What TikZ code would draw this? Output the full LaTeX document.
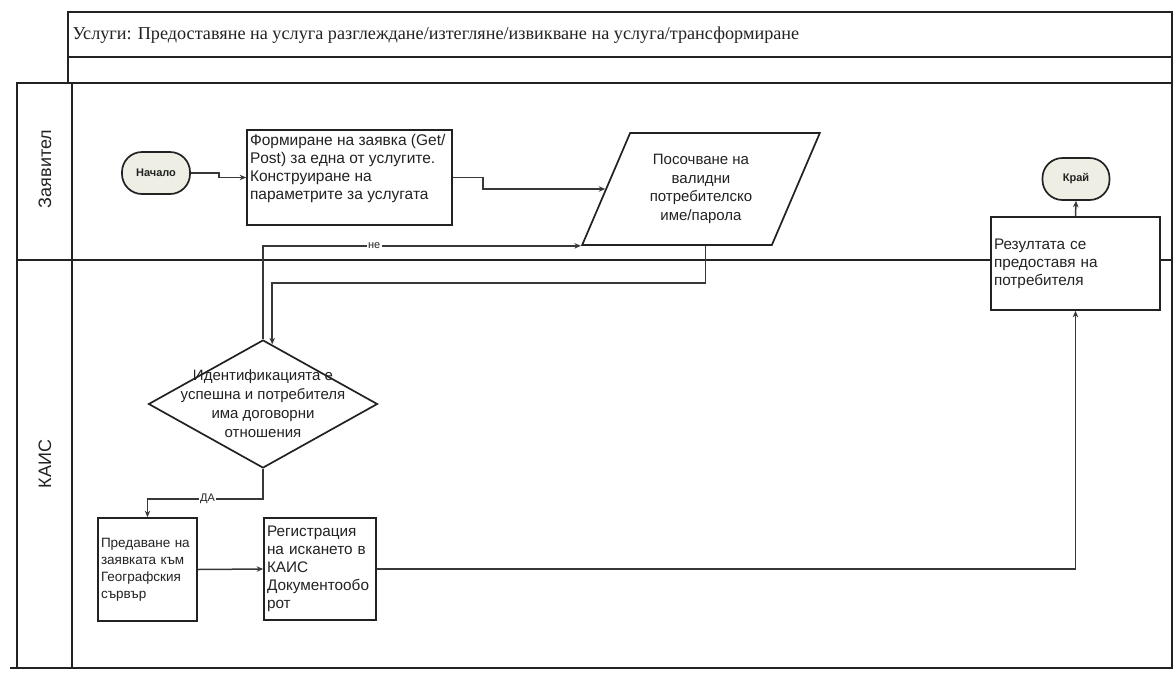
\documentclass[tikz,border=0pt]{standalone}
\usepackage{fontspec}
\setmainfont{Liberation Sans}
\newfontfamily\titlefont{Liberation Serif}
\usetikzlibrary{shapes.geometric,arrows.meta,calc}
\definecolor{termfill}{HTML}{EEEEE4}
\definecolor{ink}{HTML}{222222}

\begin{document}
\begin{tikzpicture}[x=1pt,y=-1pt,
  frame/.style={line width=1.6pt, draw=ink},
  taskbox/.style={draw=ink, line width=1.7pt, fill=white, rectangle, inner sep=3pt,
    align=left, text=ink, font=\fontsize{15.3}{18}\selectfont},
  terminal/.style={draw=ink, line width=1.7pt, fill=termfill, rectangle,
    rounded corners=20pt, text=ink, font=\bfseries\fontsize{11}{12}\selectfont},
  flow/.style={draw=ink!90, line width=1.5pt, -{Stealth[length=6.5pt,width=5.5pt]}},
  flowlabel/.style={fill=white, inner sep=1.5pt, text=ink, font=\fontsize{11}{12}\selectfont},
  lanelabel/.style={rotate=90, text=ink, font=\fontsize{18}{18}\selectfont}
]
\useasboundingbox (0,0) rectangle (1173,673);

% title block
\draw[frame] (68,12) rectangle (1172,83);
\draw[frame] (68,57) -- (1172,57);
\node[anchor=west, text=ink, font=\titlefont\fontsize{18.2}{18}\selectfont] (title) at (69,35)
  {Услуги: Предоставяне на услуга разглеждане/изтегляне/извикване на услуга/трансформиране};

% swimlanes
\draw[frame] (17,83) rectangle (1172,668);
\draw[frame] (10,668) -- (17,668);
\draw[frame] (72,83) -- (72,668);
\draw[frame] (17,260) -- (1172,260);
\node[lanelabel] (laneA) at (45,169) {Заявител};
\node[lanelabel] (laneB) at (45,464) {КАИС};

% applicant lane
\node[terminal, minimum width=68, minimum height=42] (start) at (156,173) {Начало};
\node[taskbox, minimum width=205, minimum height=95, font=\fontsize{15.5}{18}\selectfont] (form) at (349.5,177.5)
  {\parbox[t][86pt][t]{199pt}{Формиране на заявка (Get/\\Post) за една от услугите.\\Конструиране на\\параметрите за услугата}};
\node[trapezium, trapezium left angle=64, trapezium right angle=116,
  trapezium stretches=true, minimum width=238, minimum height=112,
  draw=ink, line width=1.7pt, fill=white, align=center, text=ink,
  font=\fontsize{15}{18.5}\selectfont] (cred) at (701,189)
  {Посочване на\\валидни\\потребителско\\име/парола};
\node[terminal, minimum width=67, minimum height=42] (end) at (1076,179) {Край};
\node[taskbox, minimum width=169, minimum height=93, text width=163] (res) at (1075.5,263.5)
  {Резултата се\\предоставя на\\потребителя};

% KAIS lane
\node[diamond, draw=ink, line width=1.7pt, fill=white, minimum width=229,
  minimum height=128, inner sep=0pt] (dec) at (263,404) {};
\node[align=center, text=ink, font=\fontsize{15}{19}\selectfont] (dectext) at (263,404)
  {Идентификацията е\\успешна и потребителя\\има договорни\\отношения};
\node[taskbox, minimum width=99, minimum height=103, text width=93,
  font=\fontsize{13.5}{17}\selectfont] (pass) at (147.5,569.5)
  {Предаване на\\заявката към\\Географския\\сървър};
\node[taskbox, minimum width=112, minimum height=102, text width=106] (reg) at (320,569)
  {Регистрация\\на искането в\\КАИС\\Документообо\\рот};

% connectors
\draw[flow] (start.east) -- ++(28,0) |- (form.west);
\draw[flow] (form.east) -- ++(30,0) |- ($(cred.bottom left corner)!0.5!(cred.top left corner)$);
\draw[flow] ($(cred.bottom left corner)!0.65!(cred.bottom right corner)$) -- ++(0,37)
  -| ($(dec.north)!0.08!(dec.east)$);
\draw[flow] (dec.north) |- node[flowlabel, pos=0.675] {не} (cred.bottom left corner);
\draw[flow] (dec.south) -- ++(0,30) -| node[flowlabel, pos=0.24] {ДА} (pass.north);
\draw[flow] (pass.east) -- (reg.west);
\draw[flow] (reg.east) -| (res.south);
\draw[flow] (res.north) -- (end.south);
\end{tikzpicture}
\end{document}
